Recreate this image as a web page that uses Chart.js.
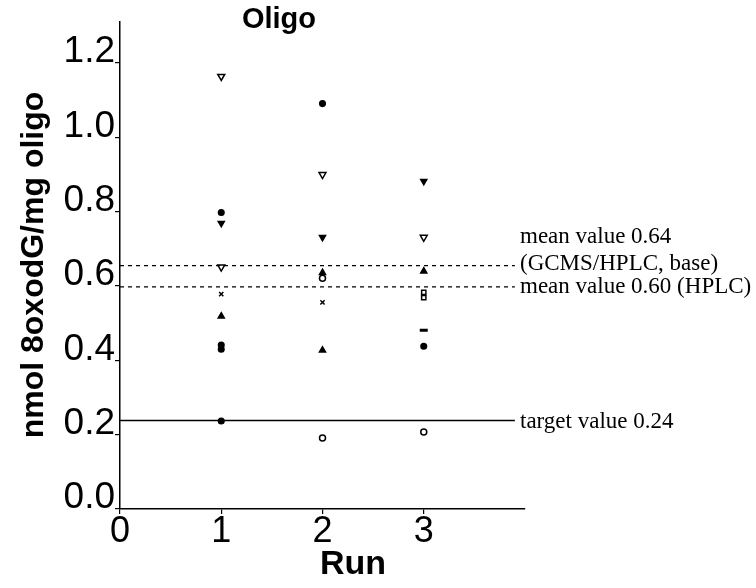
<!DOCTYPE html>
<html>
<head>
<meta charset="utf-8">
<script src="https://cdn.jsdelivr.net/npm/chart.js@4.4.0/dist/chart.umd.min.js"></script>
<style>
  html, body { margin: 0; padding: 0; background: #fff; }
  canvas { display: block; }
</style>
</head>
<body>
<canvas id="oligo-chart" width="756" height="588"></canvas>
<script>
// valores (nmol 8oxodG/mg oligo por corrida)
const runs = [1, 2, 3];
const run1Values = [1.164, 0.798, 0.769, 0.651, 0.578, 0.519, 0.441, 0.430, 0.237];
const run1Markers = ["downOpen", "dot", "downFilled", "downOpen", "cross", "upFilled", "dot", "dot", "dot"];
const run2Values = [1.091, 0.900, 0.731, 0.636, 0.621, 0.556, 0.427, 0.191];
const run2Markers = ["dot", "downOpen", "downFilled", "upFilled", "circleOpen", "cross", "upFilled", "circleOpen"];
const run3Values = [0.882, 0.731, 0.640, 0.583, 0.569, 0.481, 0.438, 0.207];
const run3Markers = ["downFilled", "downOpen", "upFilled", "squareOpen", "squareOpen", "dash", "dot", "circleOpen"];

// linhas de referencia
const targetValue = 0.238;
const meanBaseValue = 0.655;
const meanHplcValue = 0.598;
const lineEndRun = 3.9;

const yTicks = [0, 0.2, 0.4, 0.6, 0.8, 1.0, 1.2];
const xTicks = [0, 1, 2, 3];

const rightLabels = [
  { text: "mean value 0.64", y: 237 },
  { text: "(GCMS/HPLC, base)", y: 264 },
  { text: "mean value 0.60 (HPLC)", y: 287 },
  { text: "target value 0.24", y: 422 }
];

// estilo de cada simbolo
function markerStyle(m) {
  switch (m) {
    case "dot": return { style: "circle", rot: 0, fill: "#000", r: 2.8 };
    case "circleOpen": return { style: "circle", rot: 0, fill: "#fff", r: 3 };
    case "downOpen": return { style: "triangle", rot: 180, fill: "#fff", r: 4 };
    case "downFilled": return { style: "triangle", rot: 180, fill: "#000", r: 3.5 };
    case "upFilled": return { style: "triangle", rot: 0, fill: "#000", r: 3.5 };
    case "squareOpen": return { style: "rect", rot: 0, fill: "#fff", r: 3 };
    case "cross": return { style: "crossRot", rot: 0, fill: "#000", r: 3 };
    case "dash": return { style: "line", rot: 0, fill: "#000", r: 4 };
  }
}

function runDataset(run, values, markers) {
  const st = markers.map(markerStyle);
  return {
    type: "scatter",
    data: values.map(v => ({ x: run, y: v })),
    pointStyle: st.map(s => s.style),
    rotation: st.map(s => s.rot),
    pointBackgroundColor: st.map(s => s.fill),
    pointBorderColor: "#000",
    pointBorderWidth: markers.map(m => m === "dash" ? 3 : 1.5),
    pointRadius: st.map(s => s.r)
  };
}

function refLine(value, dashed) {
  return {
    type: "line",
    data: [{ x: 0, y: value }, { x: lineEndRun, y: value }],
    borderColor: "#000",
    borderWidth: dashed ? 1.2 : 1.5,
    borderDash: dashed ? [4, 4] : [],
    pointRadius: 0,
    fill: false
  };
}

// textos desenhados fora da area do grafico
const textPlugin = {
  id: "textPlugin",
  afterDraw(chart) {
    const ctx = chart.ctx;
    ctx.save();
    ctx.fillStyle = "#000";
    ctx.textAlign = "center";
    ctx.textBaseline = "middle";
    ctx.font = "bold 29px 'Liberation Sans', Arial";
    ctx.fillText("Oligo", 279, 20);
    ctx.font = "bold 34px 'Liberation Sans', Arial";
    ctx.fillText("Run", 353, 565);
    ctx.save();
    ctx.translate(34, 265);
    ctx.rotate(-Math.PI / 2);
    ctx.font = "bold 32px 'Liberation Sans', Arial";
    ctx.fillText("nmol 8oxodG/mg oligo", 0, 0);
    ctx.restore();
    ctx.textAlign = "left";
    ctx.font = "23px 'Liberation Serif', 'Times New Roman'";
    rightLabels.forEach(l => ctx.fillText(l.text, 520, l.y));
    ctx.restore();
  }
};

const ctx = document.getElementById("oligo-chart").getContext("2d");

new Chart(ctx, {
  data: {
    datasets: [
      refLine(targetValue, false),
      refLine(meanBaseValue, true),
      refLine(meanHplcValue, true),
      runDataset(runs[0], run1Values, run1Markers),
      runDataset(runs[1], run2Values, run2Markers),
      runDataset(runs[2], run3Values, run3Markers)
    ]
  },
  options: {
    responsive: false,
    animation: false,
    layout: { padding: { left: 0, right: 231, top: 22, bottom: 0 } },
    plugins: {
      legend: { display: false },
      tooltip: { enabled: false }
    },
    scales: {
      x: {
        type: "linear",
        min: 0,
        max: 4,
        afterBuildTicks: axis => { axis.ticks = xTicks.map(v => ({ value: v })); },
        afterFit: axis => { axis.height = 79; },
        grid: { drawOnChartArea: false, color: "#000", tickLength: 5, lineWidth: 1.2 },
        border: { color: "#000", width: 1.5 },
        ticks: {
          color: "#000",
          padding: -4,
          font: { size: 36, family: "'Liberation Sans', Arial" },
          callback: v => String(v)
        }
      },
      y: {
        type: "linear",
        min: 0,
        max: 1.31,
        afterBuildTicks: axis => { axis.ticks = yTicks.map(v => ({ value: v })); },
        afterFit: axis => { axis.width = 120; },
        grid: { drawOnChartArea: false, color: "#000", tickLength: 5, lineWidth: 1.2 },
        border: { color: "#000", width: 1.5 },
        ticks: {
          color: "#000",
          padding: 0,
          labelOffset: -11,
          font: { size: 37, family: "'Liberation Sans', Arial" },
          callback: v => v.toFixed(1)
        }
      }
    }
  },
  plugins: [textPlugin]
});
</script>
</body>
</html>
